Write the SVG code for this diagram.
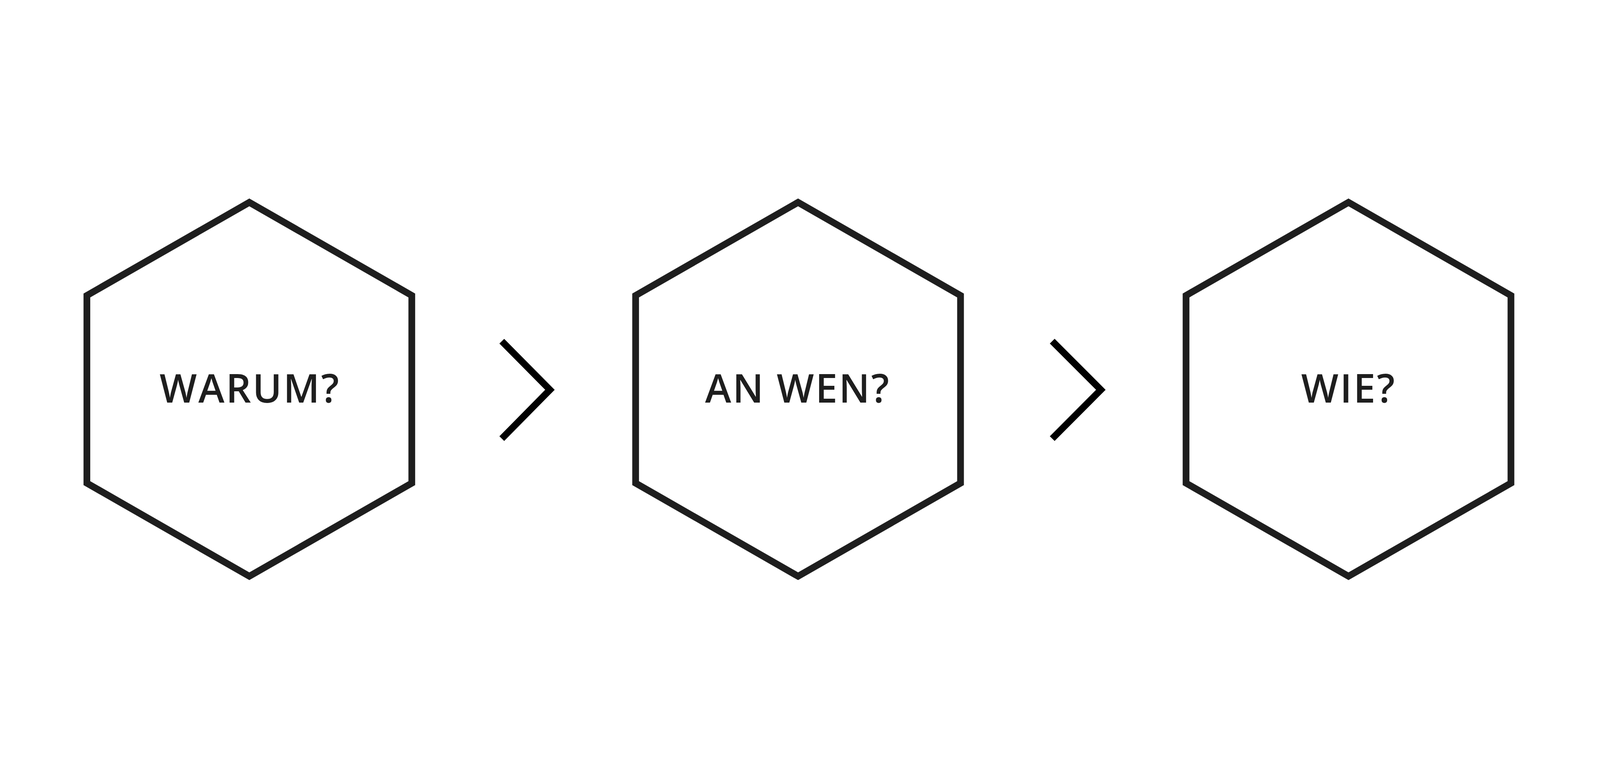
<svg xmlns="http://www.w3.org/2000/svg" width="6648" height="2000" viewBox="0 0 6648 2000" preserveAspectRatio="xMidYMid meet">
<style>
svg{width:100vw;height:100vh;display:block}
.hex{fill:none;stroke:#1e1e1e;stroke-width:28;stroke-linejoin:miter}
.chev{fill:none;stroke:#000;stroke-width:28;stroke-linejoin:miter;stroke-linecap:butt}
.lbl{font-family:"Open Sans","Noto Sans",sans-serif;font-weight:600;font-size:164px;letter-spacing:6px;fill:#1e1e1e;text-anchor:middle}
</style>
<rect width="6648" height="2000" fill="#fff"/>
<g id="node-warum">
<polygon class="hex" points="1036,218 1711,605 1711,1385 1036,1772 361,1385 361,605"/>
<text class="lbl" x="1039" y="1050">WARUM?</text>
</g>
<g id="node-an-wen">
<polygon class="hex" points="3316,218 3991,605 3991,1385 3316,1772 2641,1385 2641,605"/>
<text class="lbl" x="3315" y="1050">AN WEN?</text>
</g>
<g id="node-wie">
<polygon class="hex" points="5603,218 6278,605 6278,1385 5603,1772 4928,1385 4928,605"/>
<text class="lbl" x="5604" y="1050">WIE?</text>
</g>
<g id="connectors">
<polyline class="chev" points="2085,795 2285,997 2085,1200"/>
<polyline class="chev" points="4372,795 4574,997 4372,1200"/>
</g>
</svg>
